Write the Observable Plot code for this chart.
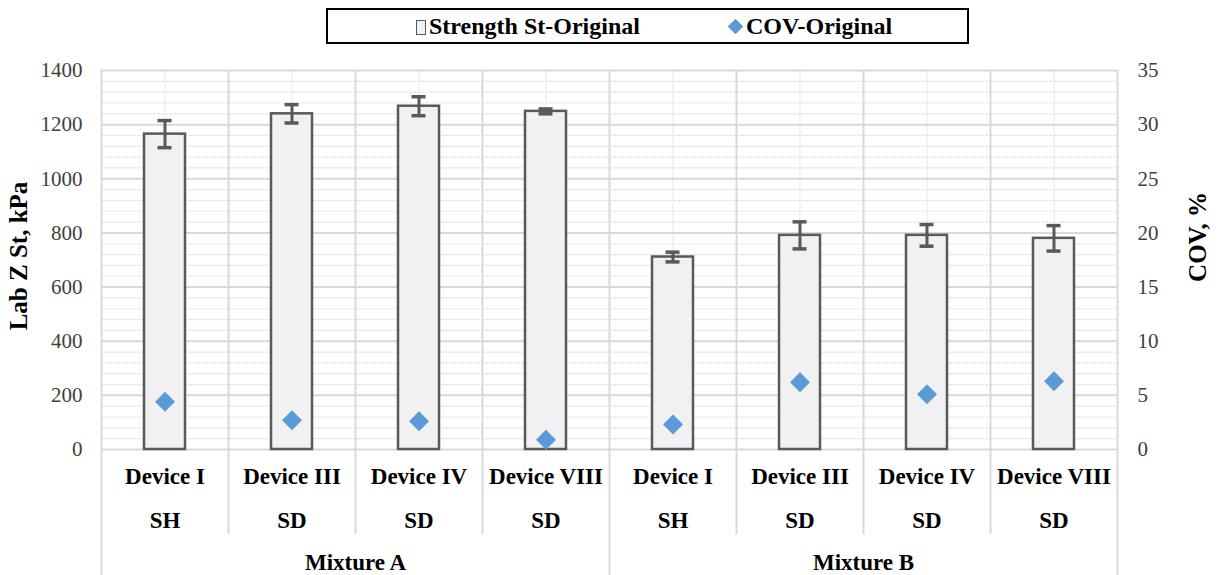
<!DOCTYPE html>
<html>
<head>
<meta charset="utf-8">
<script src="https://cdn.jsdelivr.net/npm/d3@7"></script>
<script src="https://cdn.jsdelivr.net/npm/@observablehq/plot@0.6"></script>
<style>
  html, body { margin: 0; padding: 0; background: #fff; }
  body { width: 1218px; height: 575px; overflow: hidden; font-family: "Liberation Serif", "Times New Roman", serif; }
  #legend { position: relative; height: 50px; }
  #legend .box { position: absolute; left: 326px; top: 8px; width: 643px; height: 36px; box-sizing: border-box; border: 2px solid #000; }
  #legend .item { position: absolute; top: 0; height: 32px; line-height: 32px; font-weight: bold; font-size: 24px; color: #000; white-space: nowrap; }
  #legend .sq { display: inline-block; width: 8px; height: 13px; border: 1.5px solid #595959; background: #f2f2f2; vertical-align: -1px; margin-right: 3px; }
  #legend .dm { display: inline-block; width: 11px; height: 11px; background: #5b9bd5; transform: rotate(45deg); vertical-align: 2px; margin-right: 5px; margin-left: 2px; }
</style>
</head>
<body>
<div id="legend"></div>
<div id="chart"></div>
<script>
// ---- data ----
const groups = ["Mixture A", "Mixture B"];
const groupOf = [0, 0, 0, 0, 1, 1, 1, 1];
const devices = ["Device I", "Device III", "Device IV", "Device VIII", "Device I", "Device III", "Device IV", "Device VIII"];
const modes = ["SH", "SD", "SD", "SD", "SH", "SD", "SD", "SD"];
const strength = [1165, 1240, 1268, 1249, 711, 791, 791, 780];
const strengthErr = [50, 34, 35, 9, 18, 50, 40, 47];
const cov = [4.4, 2.7, 2.6, 0.9, 2.3, 6.2, 5.1, 6.3];
const leftTicks = [0, 200, 400, 600, 800, 1000, 1200, 1400];
const rightTicks = [0, 5, 10, 15, 20, 25, 30, 35];
const seriesNames = ["Strength St-Original", "COV-Original"];
const leftTitle = "Lab Z St, kPa";
const rightTitle = "COV, %";

// ---- legend ----
const legend = document.getElementById("legend");
legend.innerHTML = `<div class="box">
  <div class="item" style="left:88px"><span class="sq"></span>${seriesNames[0]}</div>
  <div class="item" style="left:400px"><span class="dm"></span>${seriesNames[1]}</div>
</div>`;

// ---- chart ----
const k = leftTicks[leftTicks.length - 1] / rightTicks[rightTicks.length - 1];
const rows = devices.map((d, i) => ({
  i, device: d, mode: modes[i], group: groupOf[i],
  strength: strength[i], err: strengthErr[i], cov: cov[i]
}));
const n = devices.length;
const groupRows = groups.map((g, gi) => {
  const idx = rows.filter(r => r.group === gi).map(r => r.i);
  return {name: g, center: (d3.min(idx) + d3.max(idx) + 1) / 2};
});
const boundaries = d3.range(0, n + 1);
const groupBounds = boundaries.filter(b => b === 0 || b === n || groupOf[b] !== groupOf[b - 1]);
const innerBounds = boundaries.filter(b => !groupBounds.includes(b));
const minorY = d3.range(0, leftTicks[leftTicks.length - 1] + 1, k);

const font = '"Liberation Serif", "Times New Roman", serif';

const chart = Plot.plot({
  width: 1218,
  height: 525,
  marginTop: 20,
  marginBottom: 126,
  marginLeft: 101,
  marginRight: 101,
  style: {fontFamily: font, fontSize: "20px", color: "#404040", background: "#fff"},
  x: {domain: [0, n], axis: null},
  y: {domain: [0, leftTicks[leftTicks.length - 1]], axis: null},
  marks: [
    Plot.ruleY(minorY, {stroke: "#e2e2e2", strokeWidth: 1.2, strokeDasharray: "3,1"}),
    Plot.ruleX(rows, {x: d => d.i + 0.5, stroke: "#ececec", strokeWidth: 1.2}),
    Plot.ruleY(leftTicks, {stroke: "#d9d9d9", strokeWidth: 2}),
    Plot.ruleX(innerBounds, {stroke: "#d9d9d9", strokeWidth: 2, insetBottom: -85}),
    Plot.ruleX(groupBounds, {stroke: "#d9d9d9", strokeWidth: 2, insetBottom: -140}),
    Plot.rectY(rows, {x1: d => d.i, x2: d => d.i + 1, y: "strength", insetLeft: 43, insetRight: 43,
      fill: "#f1f1f1", stroke: "#595959", strokeWidth: 2.5}),
    Plot.ruleX(rows, {x: d => d.i + 0.5, y1: d => d.strength - d.err, y2: d => d.strength + d.err,
      stroke: "#595959", strokeWidth: 3}),
    Plot.ruleY(rows, {x1: d => d.i + 0.5, x2: d => d.i + 0.5, y: d => d.strength + d.err,
      insetLeft: -7, insetRight: -7, stroke: "#595959", strokeWidth: 3.5}),
    Plot.ruleY(rows, {x1: d => d.i + 0.5, x2: d => d.i + 0.5, y: d => d.strength - d.err,
      insetLeft: -7, insetRight: -7, stroke: "#595959", strokeWidth: 3.5}),
    Plot.dot(rows, {x: d => d.i + 0.5, y: d => d.cov * k, symbol: "diamond2", r: 9, fill: "#5b9bd5", stroke: "none"}),
    Plot.axisY(leftTicks, {anchor: "left", tickSize: 0, tickPadding: 19, label: null,
      tickFormat: v => String(v), fontSize: 21, fontFamily: font, fontVariant: "normal", fill: "#404040"}),
    Plot.axisY(rightTicks.map(v => v * k), {anchor: "right", tickSize: 0, tickPadding: 20, label: null,
      tickFormat: v => String(v / k), fontSize: 21, fontFamily: font, fontVariant: "normal", fill: "#404040", textAnchor: "start"}),
    Plot.text([leftTitle], {frameAnchor: "left", textAnchor: "middle", rotate: -90, dx: -83, dy: -4,
      fontFamily: font, fontWeight: "bold", fontSize: 25, fill: "#000"}),
    Plot.text([rightTitle], {frameAnchor: "right", textAnchor: "middle", rotate: -90, dx: 80, dy: -23,
      fontFamily: font, fontWeight: "bold", fontSize: 25, fill: "#000"}),
    Plot.text(rows, {x: d => d.i + 0.5, text: "device", frameAnchor: "bottom", dy: 34,
      fontFamily: font, fontWeight: "bold", fontSize: 23, fill: "#000"}),
    Plot.text(rows, {x: d => d.i + 0.5, text: "mode", frameAnchor: "bottom", dy: 78,
      fontFamily: font, fontWeight: "bold", fontSize: 23, fill: "#000"}),
    Plot.text(groupRows, {x: "center", text: "name", frameAnchor: "bottom", dy: 120,
      fontFamily: font, fontWeight: "bold", fontSize: 23, fill: "#000"})
  ]
});
document.getElementById("chart").appendChild(chart);
</script>
</body>
</html>
